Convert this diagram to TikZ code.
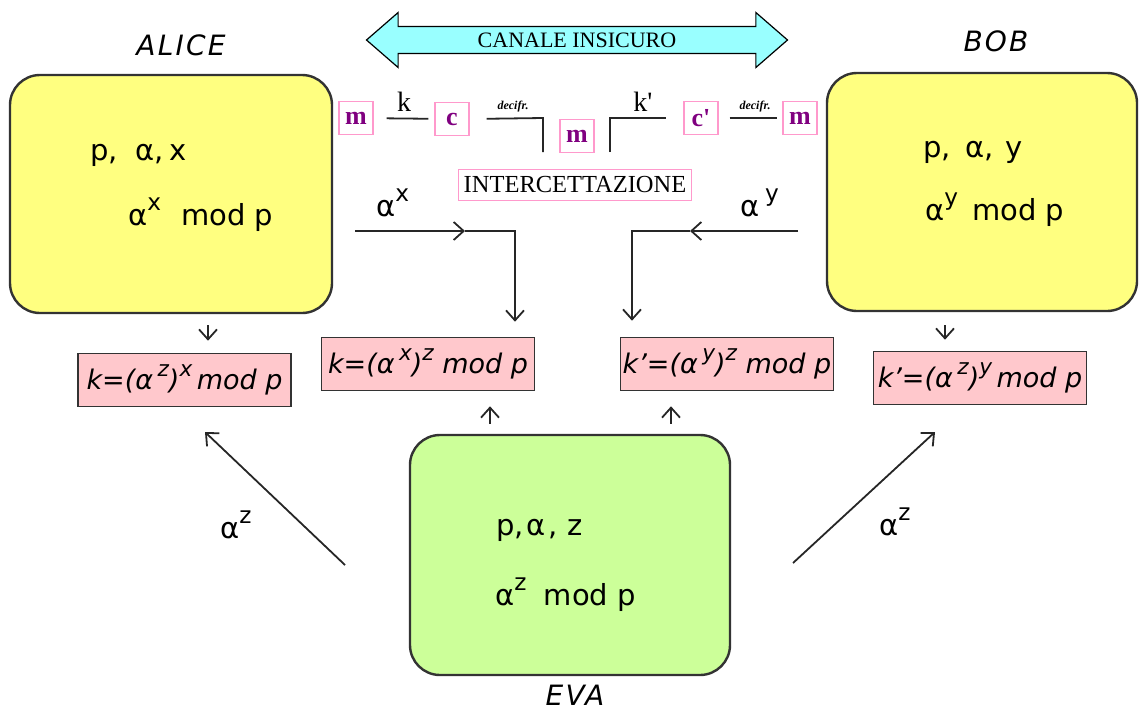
\documentclass[tikz,border=0pt]{standalone}
\usepackage{fontspec}
\setmainfont{DejaVu Sans}
\newfontfamily\tms{Liberation Serif}
\usetikzlibrary{arrows.meta,shapes.arrows,calc}
\definecolor{alicey}{HTML}{FFFF80}
\definecolor{evag}{HTML}{CCFF99}
\definecolor{pinkf}{HTML}{FFC8CC}
\definecolor{pinkb}{HTML}{FF99CC}
\definecolor{chan}{HTML}{99FFFF}
\definecolor{bordc}{HTML}{333333}
\definecolor{mpurple}{HTML}{800080}
\newcommand\sups[1]{\raisebox{0.5em}{\scalebox{0.8}{#1}}}
\begin{document}
\begin{tikzpicture}[x=1pt,y=-1pt,
  party/.style={draw=bordc, line width=2.4pt, rounded corners=30pt, inner sep=0pt},
  txt/.style={font=\fontsize{29}{33}\selectfont, inner sep=0pt, anchor=base west},
  who/.style={font=\fontsize{28}{32}\selectfont\itshape\addfontfeature{LetterSpace=8}, inner sep=0pt},
  fbox/.style={draw=bordc, line width=1.6pt, fill=pinkf, minimum width=213pt, minimum height=53pt, inner sep=0pt, font=\fontsize{27}{30}\selectfont\itshape},
  sbox/.style={draw=pinkb, line width=1.2pt, fill=white, minimum width=34pt, minimum height=33pt, inner sep=0pt, text=mpurple, font=\tms\fontsize{26}{28}\selectfont\bfseries},
  lbl/.style={inner sep=0pt, font=\tms\fontsize{28}{30}\selectfont},
  dlbl/.style={inner sep=0pt, font=\tms\fontsize{12}{13}\selectfont\itshape\bfseries},
  ln/.style={line width=1.8pt, draw=black!85},
  arr/.style={ln, -{Straight Barb[length=10pt, width=18pt, line width=1.8pt]}}
]
\useasboundingbox[fill=white] (0,0) rectangle (1140,713);

% parties
\node[party, fill=alicey, minimum width=322pt, minimum height=238pt] (alice) at (171,194) {};
\node[party, fill=alicey, minimum width=310pt, minimum height=238pt] (bob) at (982,192) {};
\node[party, fill=evag, minimum width=320pt, minimum height=240pt] (eva) at (570,555) {};
\node[who] (alicel) at (181,45) {ALICE};
\node[who] (bobl) at (996,41) {BOB};
\node[who] (eval) at (575,695) {EVA};

\node[txt] (ap) at (90,160) {p,\hspace{0.6em}α,\hspace{0.2em}x};
\node[txt] (am) at (128,225) {α\sups{x}\hspace{0.7em}mod p};
\node[txt] (bp) at (923,157) {p,\hspace{0.5em}α,\hspace{0.4em}y};
\node[txt] (bm) at (925,220) {α\sups{y}\hspace{0.5em}mod\hspace{0.3em}p};
\node[txt] (ep) at (496,535) {p,\hspace{0.1em}α\hspace{0.1em}, z};
\node[txt] (em) at (495,605) {α\sups{z}\hspace{0.6em}mod p};

% channel
\node[double arrow, draw=black, line width=1.2pt, fill=chan, minimum height=421pt,
      double arrow head extend=14pt, double arrow tip angle=82, inner xsep=4pt, inner ysep=5.5pt,
      font=\tms\fontsize{22}{24}\selectfont] (canale) at (577,40) {CANALE INSICURO};

% message boxes
\node[sbox] (m1) at (356,118) {m};
\node[sbox] (c1) at (452,119) {c};
\node[sbox] (m2) at (577,136) {m};
\node[sbox] (c2) at (701,118) {c'};
\node[sbox] (m3) at (800,118) {m};
\node[draw=pinkb, line width=1.2pt, fill=white, minimum width=233pt, minimum height=31pt, inner sep=0pt,
      font=\tms\fontsize{24.5}{26}\selectfont] (interc) at (575,185) {INTERCETTAZIONE};

\coordinate (d1b) at (543,118);
\coordinate (d1c) at (543,152);
\coordinate (d2c) at (610,152);
\coordinate (d2b) at (610,118);
\draw[ln, shorten <=13pt, shorten >=6pt] (m1) -- (c1) node[lbl, midway, above=6pt] (kl) {k};
\draw[ln, shorten <=17pt] (c1.east) -- (d1b) -- (d1c);
\node[dlbl] (dec1) at (513,107) {decifr.};
\draw[ln, shorten >=17pt] (d2c) -- (d2b) -- (c2.west);
\node[lbl] (kpl) at (643,102) {k'};
\draw[ln, shorten <=11pt, shorten >=5pt] (c2) -- (m3);
\node[dlbl] (dec2) at (755,107) {decifr.};

% formula boxes
\node[fbox] (kza) at (184.5,380) {k=(α\,\sups{z})\sups{x}\,mod p};
\node[fbox] (kax) at (428,364) {k=(α\,\sups{x})\sups{z} mod p};
\node[fbox] (kay) at (727,364) {k'=(α\,\sups{y})\sups{z} mod p};
\node[fbox] (kzy) at (980,378) {k'=(α\,\sups{z})\sups{y}\,mod p};

% alpha^x, alpha^y
\coordinate (ax0) at (355,231);
\coordinate (axm) at (465,231);
\coordinate (axc) at (515,231);
\draw[arr] (ax0) -- (axm);
\draw[arr, shorten >=15pt] (axm) -- (axc) -- (axc |- kax.north);
\node[txt] (axl) at (376,216) {α\sups{x}};
\coordinate (ay0) at (798,231);
\coordinate (aym) at (690,231);
\coordinate (ayc) at (632,231);
\draw[arr] (ay0) -- (aym);
\draw[arr, shorten >=16pt] (aym) -- (ayc) -- (ayc |- kay.north);
\node[txt] (ayl) at (740,216) {α\hspace{0.2em}\sups{y}};

% small arrows
\draw[arr, shorten <=11pt, shorten >=12pt] (208,0 |- alice.south) -- (208,0 |- kza.north);
\draw[arr, shorten <=13pt, shorten >=11pt] (945,0 |- bob.south) -- (945,0 |- kzy.north);
\draw[arr, shorten <=10pt, shorten >=15pt] (490,0 |- eva.north) -- (490,0 |- kax.south);
\draw[arr, shorten <=10pt, shorten >=15pt] (671,0 |- eva.north) -- (671,0 |- kay.south);

% alpha^z
\coordinate (zl0) at (345,565);
\coordinate (zl1) at (205,432);
\coordinate (zr0) at (793,563);
\coordinate (zr1) at (935,432);
\draw[arr] (zl0) -- (zl1);
\draw[arr] (zr0) -- (zr1);
\node[txt] (zll) at (220,538) {α\sups{z}};
\node[txt] (zrl) at (879,535) {α\sups{z}};
\end{tikzpicture}
\end{document}
